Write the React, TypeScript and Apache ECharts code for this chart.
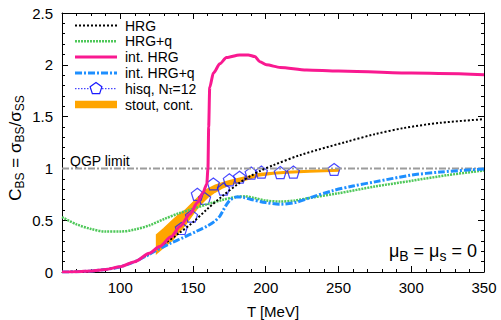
import React, { useEffect, useRef } from 'react';
import * as echarts from 'echarts';

const FONT = '"Liberation Sans", Arial, Helvetica, sans-serif';

// Temperature ticks that carry labels (MeV)
const tempLabels = [100, 150, 200, 250, 300, 350];

// Hadron resonance gas, C_BS vs T
const hrg: number[][] = [
  [60, 0], [70, 0.003], [80, 0.01], [90, 0.025], [100, 0.05], [110, 0.1], [120, 0.175],
  [130, 0.27], [140, 0.37], [150, 0.48], [160, 0.61], [170, 0.73], [182, 0.86], [190, 0.93],
  [196, 0.975], [205, 1.03], [224, 1.13], [255, 1.255], [275, 1.33], [295, 1.39], [320, 1.44], [350, 1.475],
];

// HRG with quark-like states
const hrgQ: number[][] = [
  [60, 0.53], [70, 0.46], [80, 0.415], [90, 0.39], [100, 0.39], [110, 0.41], [120, 0.45],
  [130, 0.51], [140, 0.565], [150, 0.61], [160, 0.655], [170, 0.695], [180, 0.725], [186, 0.73],
  [192, 0.715], [200, 0.69], [210, 0.68], [220, 0.69], [230, 0.715], [250, 0.76], [275, 0.825],
  [300, 0.88], [325, 0.935], [350, 0.98],
];

// Interacting HRG
const intHrg: number[][] = [
  [60, 0], [70, 0.003], [80, 0.01], [90, 0.025], [100, 0.05], [110, 0.1], [120, 0.18], [127, 0.245],
  [135, 0.34], [141, 0.44], [148, 0.56], [153, 0.67], [157, 0.77], [159.5, 0.85], [160.3, 1.0],
  [160.8, 1.4], [161.5, 1.78], [164, 1.92], [168.5, 2.01], [173, 2.07], [182, 2.095], [188, 2.095],
  [192.5, 2.08], [196, 2.03], [200.5, 2.0], [210, 1.975], [228, 1.95], [250, 1.94], [300, 1.92], [350, 1.905],
];

// Interacting HRG with quark-like states
const intHrgQ: number[][] = [
  [60, 0], [70, 0.003], [80, 0.01], [90, 0.025], [100, 0.05], [110, 0.1], [120, 0.17], [125, 0.21],
  [135, 0.28], [143, 0.33], [152, 0.39], [160, 0.445], [165, 0.49], [168.5, 0.54], [171, 0.6],
  [173.5, 0.66], [176, 0.7], [180, 0.725], [185, 0.72], [190, 0.7], [200, 0.67], [210, 0.655],
  [220, 0.67], [230, 0.715], [246, 0.785], [260, 0.83], [275, 0.87], [300, 0.935], [320, 0.965], [350, 0.995],
];

// Lattice: HISQ, N_tau = 12
const hisqT = [142, 149, 153, 158, 164, 171, 175, 182, 190, 197, 210, 219, 247];
const hisqV = [0.42, 0.54, 0.75, 0.71, 0.85, 0.8, 0.89, 0.915, 0.955, 0.965, 0.96, 0.965, 0.99];

// Lattice: stout, continuum band
const stoutT = [125, 130, 136, 140, 145, 150, 155, 160, 165, 170, 175, 182, 190, 196, 205, 215, 230, 250];
const stoutLow = [0.18, 0.24, 0.31, 0.38, 0.46, 0.56, 0.65, 0.72, 0.77, 0.81, 0.84, 0.87, 0.905, 0.93, 0.945, 0.955, 0.965, 0.975];
const stoutHigh = [0.36, 0.42, 0.5, 0.55, 0.6, 0.67, 0.74, 0.8, 0.835, 0.86, 0.88, 0.905, 0.93, 0.95, 0.96, 0.97, 0.98, 0.99];

// QGP limit
const qgpLimit: number[][] = [[60, 1], [350, 1]];

const C_HRG = '#000000';
const C_HRGQ = '#4fc85a';
const C_INT = '#f91990';
const C_INTQ = '#1e8fff';
const C_HISQ = '#1a1aff';
const C_STOUT = '#ffa500';
const C_QGP = '#9c9c9c';

const PENTAGON = 'path://M0,-10L9.511,-3.09L5.878,8.09L-5.878,8.09L-9.511,-3.09Z';

function pentagonPoints(cx: number, cy: number, r: number) {
  const pts: number[][] = [];
  for (let k = 0; k < 5; k++) {
    const a = (-90 + 72 * k) * Math.PI / 180;
    pts.push([cx + r * Math.cos(a), cy + r * Math.sin(a)]);
  }
  return pts;
}

const legendX1 = 75;
const legendX2 = 117;
const legendTextX = 125;
const rowY = [25.5, 41.3, 57.1, 72.9, 88.7, 104.5];

function legendText(y: number, text: string, rich?: any) {
  return {
    type: 'text', x: legendTextX, y, silent: true,
    style: {
      text, fill: '#000', fontFamily: FONT, fontSize: 14,
      align: 'left', verticalAlign: 'middle', rich,
    },
  };
}

function legendLine(y: number, stroke: string, lineWidth: number, lineDash?: number[]) {
  return {
    type: 'line', silent: true,
    shape: { x1: legendX1, y1: y, x2: legendX2, y2: y },
    style: { stroke, lineWidth, lineDash },
  };
}

const subRich = (size: number, sub: number, lh: number) => ({
  n: { fontSize: size, fontFamily: FONT, fill: '#000', lineHeight: lh, verticalAlign: 'middle' },
  s: { fontSize: sub, fontFamily: FONT, fill: '#000', lineHeight: sub, verticalAlign: 'bottom' },
});

const axisCommon = {
  type: 'value' as const,
  min: 60,
  max: 350,
  splitLine: { show: false },
};

const option: any = {
  animation: false,
  backgroundColor: '#ffffff',
  grid: { left: 62, right: 17, top: 13, bottom: 48, containLabel: false },
  xAxis: [
    {
      ...axisCommon, position: 'bottom', interval: 10,
      axisLine: { show: true, lineStyle: { color: '#000', width: 1 } },
      axisTick: { show: true, inside: true, length: 3, lineStyle: { color: '#000' } },
      axisLabel: {
        formatter: (v: number) => (tempLabels.indexOf(v) >= 0 ? String(v) : ''),
        fontSize: 15, color: '#000', fontFamily: FONT, margin: 8,
      },
    },
    {
      ...axisCommon, position: 'bottom',
      axisLine: { show: false },
      axisTick: { show: true, inside: true, length: 6, customValues: tempLabels, lineStyle: { color: '#000' } },
      axisLabel: { show: false },
    },
    {
      ...axisCommon, position: 'top', interval: 10,
      axisLine: { show: true, lineStyle: { color: '#000', width: 1 } },
      axisTick: { show: true, inside: true, length: 3, lineStyle: { color: '#000' } },
      axisLabel: { show: false },
    },
    {
      ...axisCommon, position: 'top',
      axisLine: { show: false },
      axisTick: { show: true, inside: true, length: 6, customValues: tempLabels, lineStyle: { color: '#000' } },
      axisLabel: { show: false },
    },
  ],
  yAxis: [
    {
      type: 'value', min: 0, max: 2.5, interval: 0.5, position: 'left',
      axisLine: { show: true, lineStyle: { color: '#000', width: 1 } },
      axisTick: { show: true, inside: true, length: 6, lineStyle: { color: '#000' } },
      minorTick: { show: true, splitNumber: 5, length: 3, lineStyle: { color: '#000' } },
      axisLabel: { fontSize: 15, color: '#000', fontFamily: FONT, margin: 9 },
      splitLine: { show: false },
      minorSplitLine: { show: false },
    },
    {
      type: 'value', min: 0, max: 2.5, interval: 0.5, position: 'right',
      axisLine: { show: true, lineStyle: { color: '#000', width: 1 } },
      axisTick: { show: true, inside: true, length: 6, lineStyle: { color: '#000' } },
      minorTick: { show: true, splitNumber: 5, length: 3, lineStyle: { color: '#000' } },
      axisLabel: { show: false },
      splitLine: { show: false },
      minorSplitLine: { show: false },
    },
  ],
  series: [
    {
      name: 'QGP limit', type: 'line', data: qgpLimit, symbol: 'none', silent: true,
      lineStyle: { color: C_QGP, width: 2, type: [7, 2, 2, 2] },
    },
    {
      name: 'HRG+q', type: 'line', data: hrgQ, symbol: 'none', smooth: 0.3, silent: true,
      lineStyle: { color: C_HRGQ, width: 2.5, type: [2, 1] },
    },
    {
      name: 'HRG', type: 'line', data: hrg, symbol: 'none', smooth: 0.3, silent: true,
      lineStyle: { color: C_HRG, width: 2, type: [2, 2] },
    },
    {
      name: 'int. HRG+q', type: 'line', data: intHrgQ, symbol: 'none', smooth: 0.3, silent: true,
      lineStyle: { color: C_INTQ, width: 3, type: [7, 2, 2, 2] },
    },
    {
      name: 'stout, cont.', type: 'custom', silent: true,
      data: stoutT.map((t, i) => [t, stoutLow[i], stoutHigh[i]]),
      encode: { x: 0, y: [1, 2] },
      renderItem: (params: any, api: any) => {
        if (params.dataIndex !== 0) return null;
        const upper = stoutT.map((t, i) => api.coord([t, stoutHigh[i]]));
        const lower = stoutT.map((t, i) => api.coord([t, stoutLow[i]])).reverse();
        return {
          type: 'polygon',
          shape: { points: upper.concat(lower) },
          style: { fill: C_STOUT, stroke: C_STOUT, lineWidth: 1.5 },
        };
      },
    },
    {
      name: 'int. HRG', type: 'line', data: intHrg, symbol: 'none', smooth: 0.25, smoothMonotone: 'x', silent: true,
      lineStyle: { color: C_INT, width: 3 },
    },
    {
      name: 'hisq', type: 'scatter', silent: true,
      data: hisqT.map((t, i) => [t, hisqV[i]]),
      symbol: PENTAGON, symbolSize: 12,
      itemStyle: { color: 'rgba(0,0,0,0)', borderColor: C_HISQ, borderWidth: 1.2 },
    },
  ],
  graphic: [
    legendLine(rowY[0], C_HRG, 2, [2, 2]),
    legendText(rowY[0], 'HRG'),
    legendLine(rowY[1], C_HRGQ, 2.5, [2, 1]),
    legendText(rowY[1], 'HRG+q'),
    legendLine(rowY[2], C_INT, 3),
    legendText(rowY[2], 'int. HRG'),
    legendLine(rowY[3], C_INTQ, 3, [7, 2, 2, 2]),
    legendText(rowY[3], 'int. HRG+q'),
    legendLine(rowY[4], C_HISQ, 1, [1.5, 1.5]),
    {
      type: 'polygon', silent: true,
      shape: { points: pentagonPoints((legendX1 + legendX2) / 2, rowY[4], 6.2) },
      style: { fill: '#fff', stroke: C_HISQ, lineWidth: 1.2 },
    },
    legendText(rowY[4], '{n|hisq, N}{s|τ}{n|=12}', subRich(14, 10, 14)),
    {
      type: 'rect', silent: true,
      shape: { x: legendX1, y: rowY[5] - 3.8, width: legendX2 - legendX1, height: 7.6 },
      style: { fill: C_STOUT },
    },
    legendText(rowY[5], 'stout, cont.'),
    {
      type: 'text', x: 70, y: 161, silent: true,
      style: { text: 'QGP limit', fill: '#000', fontFamily: FONT, fontSize: 14, align: 'left', verticalAlign: 'middle' },
    },
    {
      type: 'text', x: 477, y: 251, silent: true,
      style: {
        text: '{n|μ}{s|B}{n| = μ}{s|s}{n| = 0}',
        rich: subRich(18, 14, 24),
        align: 'right', verticalAlign: 'middle', fill: '#000', fontFamily: FONT, fontSize: 18,
      },
    },
    {
      type: 'text', x: 273, y: 311, silent: true,
      style: { text: 'T [MeV]', fill: '#000', fontFamily: FONT, fontSize: 15, align: 'center', verticalAlign: 'middle' },
    },
    {
      type: 'text', x: 15, y: 148, rotation: Math.PI / 2, silent: true,
      style: {
        text: '{n|C}{s|BS}{n| = σ}{s|BS}{n|/σ}{s|SS}',
        rich: subRich(17, 12, 22),
        align: 'center', verticalAlign: 'middle', fill: '#000', fontFamily: FONT, fontSize: 17,
      },
    },
  ],
};

export default function App() {
  const ref = useRef<HTMLDivElement>(null);
  useEffect(() => {
    if (!ref.current) return;
    const chart = echarts.init(ref.current, null, { renderer: 'svg' });
    chart.setOption(option);
    return () => chart.dispose();
  }, []);
  return (
    <div
      ref={ref}
      style={{ position: 'fixed', left: 0, top: 0, width: 501, height: 320, background: '#fff' }}
    />
  );
}
